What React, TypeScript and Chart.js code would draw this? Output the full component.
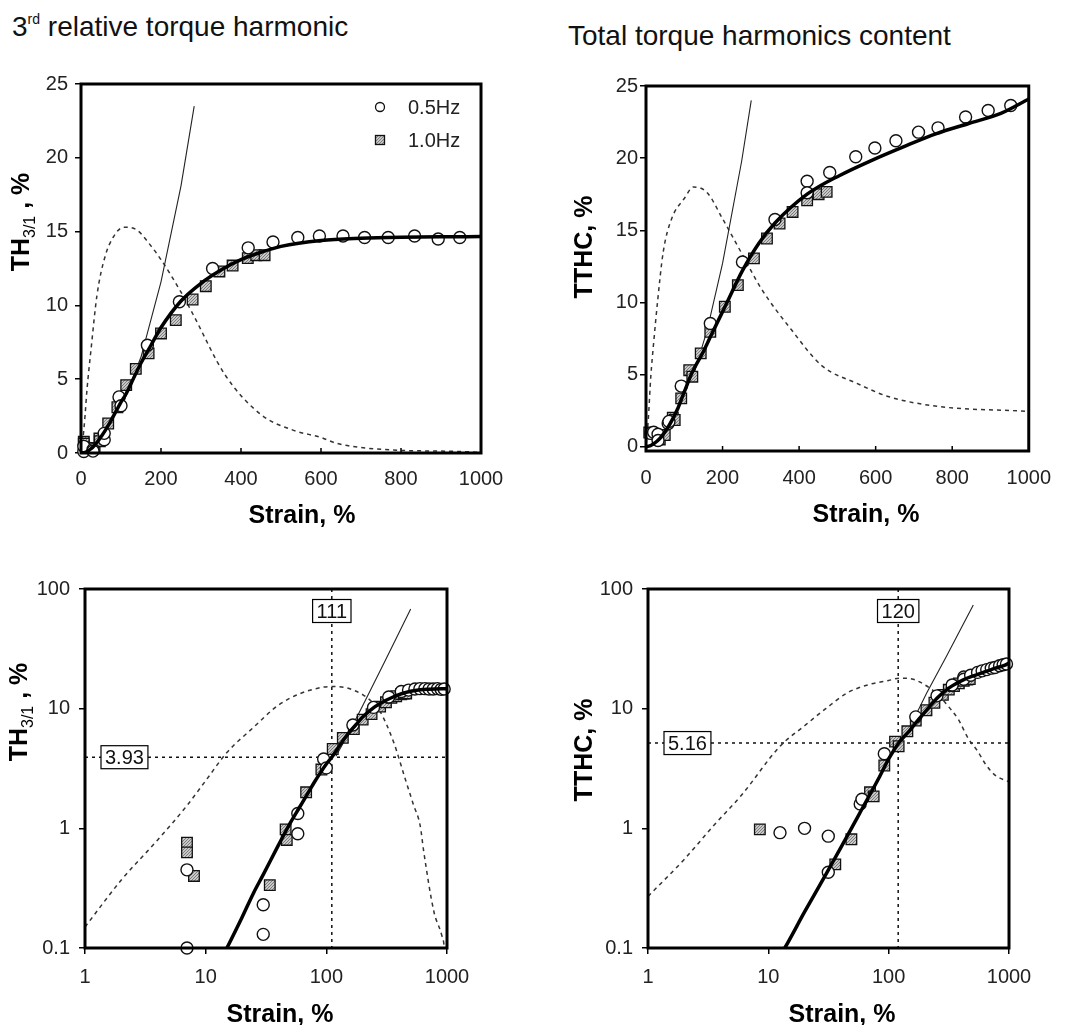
import React, { useEffect, useRef } from 'react';
import { Chart, registerables } from 'chart.js';
Chart.register(...registerables);

const FONT = '"Liberation Sans", Arial, Helvetica, sans-serif';
const W = 1066;
const H = 1025;

// ---------- tick values ----------
const linXTicks = [0, 200, 400, 600, 800, 1000];
const linYTicks = [0, 5, 10, 15, 20, 25];
const logXTicks = [1, 10, 100, 1000];
const logYTicks = [0.1, 1, 10, 100];

// ---------- 3rd relative torque harmonic (TH3/1) ----------
const th05X = [7, 7, 30, 30, 58, 58, 95, 100, 166, 246, 329, 418, 480, 542, 596, 655, 709, 768, 834, 893, 947];
const th05Y = [0.10, 0.45, 0.23, 0.13, 0.9, 1.33, 3.8, 3.2, 7.3, 10.25, 12.5, 13.9, 14.3, 14.6, 14.7, 14.7, 14.6, 14.6, 14.7, 14.5, 14.6];
const th10X = [7, 7, 8, 34, 46, 47, 68, 91, 113, 137, 169, 200, 237, 279, 312, 346, 379, 417, 438, 459];
const th10Y = [0.76, 0.63, 0.40, 0.335, 0.98, 0.8, 2.0, 3.1, 4.6, 5.7, 6.75, 8.1, 9.0, 10.4, 11.3, 12.3, 12.7, 13.2, 13.4, 13.4];
const thFitX = [0, 10, 15, 20, 25, 30, 40, 50, 60, 70, 80, 90, 100, 111, 125, 150, 175, 200, 250, 300, 350, 400, 450, 500, 600, 700, 800, 900, 1000];
const thFitY = [0, 0.045, 0.1, 0.18, 0.29, 0.41, 0.72, 1.1, 1.5, 1.95, 2.45, 2.95, 3.45, 3.93, 4.7, 6.1, 7.3, 8.5, 10.3, 11.5, 12.4, 13.1, 13.6, 14.0, 14.4, 14.55, 14.62, 14.65, 14.66];
const thTanLinX = [100, 150, 200, 250, 283];
const thTanLinY = [3.0, 6.5, 11.6, 18.1, 23.5];
const thTanLogX = [120, 150, 200, 300, 400, 500];
const thTanLogY = [4.0, 6.0, 10.6, 24, 43, 68];
const thDashX = [1, 2, 4, 7, 10, 15, 25, 40, 60, 80, 107, 140, 170, 200, 250, 280, 360, 450, 530, 600, 640, 780, 900, 950, 1000];
const thDashY = [0.15, 0.37, 0.8, 1.55, 2.5, 4.3, 7.0, 10.7, 13.3, 14.6, 15.3, 15.1, 14.2, 13.1, 10.9, 9.4, 5.3, 2.6, 1.55, 1.05, 0.65, 0.2, 0.13, 0.1, 0.04];
const thCross = { x: 111, y: 3.93 };

// ---------- Total torque harmonics content (TTHC) ----------
const tt05X = [12.5, 20, 31.5, 31.5, 58, 60, 92, 168, 252, 337, 421, 421, 480, 548, 598, 653, 712, 763, 835, 894, 953];
const tt05Y = [0.92, 1.0, 0.86, 0.43, 1.6, 1.75, 4.2, 8.54, 12.8, 15.75, 18.4, 17.6, 19.0, 20.1, 20.7, 21.2, 21.8, 22.1, 22.85, 23.3, 23.65];
const tt10X = [8.5, 36, 49, 70, 75, 92, 113, 121, 143, 168, 206, 240, 282, 316, 349, 383, 421, 451, 472];
const tt10Y = [0.98, 0.5, 0.81, 2.0, 1.85, 3.35, 5.3, 4.85, 6.47, 7.96, 9.7, 11.2, 13.05, 14.43, 15.47, 16.27, 17.08, 17.5, 17.66];
const ttFitX = [0, 10, 13.7, 20, 30, 41, 60, 84, 100, 120, 150, 168, 210, 252, 295, 337, 421, 506, 590, 674, 759, 843, 927, 1000];
const ttFitY = [0, 0.06, 0.1, 0.2, 0.41, 0.72, 1.45, 2.7, 3.8, 5.1, 6.6, 7.6, 9.9, 12.2, 14.1, 15.5, 17.5, 18.8, 19.85, 20.8, 21.7, 22.4, 23.1, 24.1];
const ttTanLinX = [120, 160, 200, 250, 275];
const ttTanLinY = [4.6, 8.1, 12.7, 19.8, 24.0];
const ttTanLogX = [150, 207, 300, 400, 505];
const ttTanLogY = [7.0, 13.5, 27, 47, 73.6];
const ttDashX = [1, 2, 3.5, 6, 12.5, 20, 30, 45, 67, 100, 124, 160, 200, 250, 300, 380, 460, 550, 630, 760, 1000];
const ttDashY = [0.27, 0.55, 1.05, 1.9, 4.85, 7.2, 10.0, 13.5, 15.8, 17.2, 18.0, 17.6, 15.8, 13.4, 11.0, 8.1, 5.6, 4.4, 3.5, 2.8, 2.45];
const ttCross = { x: 120, y: 5.16 };

const legendLabels = ['0.5Hz', '1.0Hz'];

type Pt = { x: number; y: number };
const pts = (xs: number[], ys: number[], log: boolean): Pt[] =>
  xs.map((x, i) => ({ x, y: ys[i] })).filter((p) => !log || (p.x > 0 && p.y > 0));

interface TitlePart { text: string; font: string; dy?: number }
interface Panel {
  area: { left: number; top: number; right: number; bottom: number };
  log: boolean;
  xMin: number; xMax: number; yMin: number; yMax: number;
  xTicks: number[]; yTicks: number[];
  c05X: number[]; c05Y: number[]; s10X: number[]; s10Y: number[];
  fitX: number[]; fitY: number[]; tanX: number[]; tanY: number[]; dashX: number[]; dashY: number[];
  yTitle: TitlePart[]; yTitlePos: [number, number];
  xTitlePos: [number, number];
  cross?: { x: number; y: number };
  legend?: boolean;
  yPad: number; xPad: number;
}

const boldT = `bold 25px ${FONT}`;
const subT = `16px ${FONT}`;

const panels: Panel[] = [
  {
    area: { left: 81, top: 84, right: 481, bottom: 453 }, log: false,
    xMin: 0, xMax: 1000, yMin: 0, yMax: 25, xTicks: linXTicks, yTicks: linYTicks,
    c05X: th05X, c05Y: th05Y, s10X: th10X, s10Y: th10Y, fitX: thFitX, fitY: thFitY,
    tanX: thTanLinX, tanY: thTanLinY, dashX: thDashX, dashY: thDashY,
    yTitle: [{ text: 'TH', font: boldT }, { text: '3/1', font: subT, dy: 6 }, { text: ' , %', font: boldT }],
    yTitlePos: [20, 222], xTitlePos: [302, 523], legend: true, yPad: 7, xPad: 14,
  },
  {
    area: { left: 646, top: 86, right: 1042, bottom: 451 }, log: false,
    xMin: 0, xMax: 1000, yMin: -0.3, yMax: 25, xTicks: linXTicks, yTicks: linYTicks,
    c05X: tt05X, c05Y: tt05Y, s10X: tt10X, s10Y: tt10Y, fitX: ttFitX, fitY: ttFitY,
    tanX: ttTanLinX, tanY: ttTanLinY, dashX: ttDashX, dashY: ttDashY,
    yTitle: [{ text: 'TTHC, %', font: boldT }],
    yTitlePos: [583, 247], xTitlePos: [866, 522], yPad: 2, xPad: 15,
  },
  {
    area: { left: 85, top: 589, right: 447, bottom: 948 }, log: true,
    xMin: 1, xMax: 1000, yMin: 0.1, yMax: 100, xTicks: logXTicks, yTicks: logYTicks,
    c05X: th05X, c05Y: th05Y, s10X: th10X, s10Y: th10Y, fitX: thFitX, fitY: thFitY,
    tanX: thTanLogX, tanY: thTanLogY, dashX: thDashX, dashY: thDashY,
    yTitle: [{ text: 'TH', font: boldT }, { text: '3/1', font: subT, dy: 6 }, { text: ' , %', font: boldT }],
    yTitlePos: [18, 712], xTitlePos: [280, 1022], cross: thCross, yPad: 9, xPad: 11,
  },
  {
    area: { left: 648, top: 589, right: 1009, bottom: 948 }, log: true,
    xMin: 1, xMax: 1000, yMin: 0.1, yMax: 100, xTicks: logXTicks, yTicks: logYTicks,
    c05X: tt05X, c05Y: tt05Y, s10X: tt10X, s10Y: tt10Y, fitX: ttFitX, fitY: ttFitY,
    tanX: ttTanLogX, tanY: ttTanLogY, dashX: ttDashX, dashY: ttDashY,
    yTitle: [{ text: 'TTHC, %', font: boldT }],
    yTitlePos: [583, 750], xTitlePos: [842, 1022], cross: ttCross, yPad: 9, xPad: 11,
  },
];

function makePattern(): CanvasPattern | string {
  const c = document.createElement('canvas');
  c.width = 3; c.height = 3;
  const g = c.getContext('2d');
  if (!g) return '#aaaaaa';
  g.fillStyle = '#c8c8c8';
  g.fillRect(0, 0, 3, 3);
  g.fillStyle = '#7c7c7c';
  g.fillRect(0, 0, 1, 1);
  g.fillRect(2, 1, 1, 1);
  g.fillRect(1, 2, 1, 1);
  return g.createPattern(c, 'repeat') || '#aaaaaa';
}

function fmt(v: number) {
  return String(v);
}

function buildChart(canvas: HTMLCanvasElement, p: Panel) {
  const pattern = makePattern();
  const tickFont = { family: FONT, size: 20 };
  const overlay = {
    id: 'overlay' + Math.random().toString(36).slice(2),
    beforeDatasetsDraw(chart: any) {
      if (!p.cross) return;
      const { ctx, chartArea: a, scales } = chart;
      const px = scales.x.getPixelForValue(p.cross.x);
      const py = scales.y.getPixelForValue(p.cross.y);
      ctx.save();
      ctx.strokeStyle = '#111';
      ctx.lineWidth = 1.5;
      ctx.setLineDash([3, 4]);
      ctx.beginPath();
      ctx.moveTo(px, a.top); ctx.lineTo(px, a.bottom);
      ctx.moveTo(a.left, py); ctx.lineTo(a.right, py);
      ctx.stroke();
      ctx.restore();
    },
    afterDraw(chart: any) {
      const { ctx, chartArea: a, scales } = chart;
      ctx.save();
      // inner ticks for linear x axis
      if (!p.log) {
        ctx.strokeStyle = '#000';
        ctx.lineWidth = 1.5;
        ctx.beginPath();
        p.xTicks.forEach((v) => {
          const x = scales.x.getPixelForValue(v);
          ctx.moveTo(x, a.bottom);
          ctx.lineTo(x, a.bottom - 5);
        });
        ctx.stroke();
      }
      // frame
      ctx.strokeStyle = '#000';
      ctx.lineWidth = 3;
      ctx.strokeRect(a.left, a.top, a.right - a.left, a.bottom - a.top);
      // boxed value labels
      if (p.cross) {
        ctx.font = `20px ${FONT}`;
        ctx.textBaseline = 'middle';
        ctx.textAlign = 'center';
        const drawBox = (text: string, cx: number, cy: number) => {
          const w = ctx.measureText(text).width + 8;
          const h = 23;
          ctx.fillStyle = '#fff';
          ctx.fillRect(cx - w / 2, cy - h / 2, w, h);
          ctx.strokeStyle = '#000';
          ctx.lineWidth = 1.2;
          ctx.strokeRect(cx - w / 2, cy - h / 2, w, h);
          ctx.fillStyle = '#111';
          ctx.fillText(text, cx, cy + 1);
        };
        const px = scales.x.getPixelForValue(p.cross.x);
        const py = scales.y.getPixelForValue(p.cross.y);
        drawBox(String(p.cross.x), px, a.top + 22);
        const lt = String(p.cross.y);
        const lw = ctx.measureText(lt).width + 8;
        drawBox(lt, a.left + 16 + lw / 2, py);
      }
      // legend
      if (p.legend) {
        const lx = a.left + 299;
        const y1 = a.top + 23;
        const y2 = a.top + 56;
        ctx.lineWidth = 1.3;
        ctx.strokeStyle = '#111';
        ctx.fillStyle = '#fff';
        ctx.beginPath();
        ctx.arc(lx, y1, 4.5, 0, Math.PI * 2);
        ctx.fill();
        ctx.stroke();
        ctx.fillStyle = pattern as any;
        ctx.fillRect(lx - 4.5, y2 - 4.5, 9, 9);
        ctx.strokeRect(lx - 4.5, y2 - 4.5, 9, 9);
        ctx.fillStyle = '#222';
        ctx.font = `20px ${FONT}`;
        ctx.textAlign = 'left';
        ctx.textBaseline = 'middle';
        ctx.fillText(legendLabels[0], lx + 28, y1 + 1);
        ctx.fillText(legendLabels[1], lx + 28, y2 + 1);
      }
      // x title
      ctx.fillStyle = '#000';
      ctx.font = boldT;
      ctx.textAlign = 'center';
      ctx.textBaseline = 'alphabetic';
      ctx.fillText('Strain, %', p.xTitlePos[0], p.xTitlePos[1]);
      // y title (rotated, with subscript)
      ctx.translate(p.yTitlePos[0], p.yTitlePos[1]);
      ctx.rotate(-Math.PI / 2);
      ctx.textAlign = 'left';
      let total = 0;
      const widths = p.yTitle.map((t) => {
        ctx.font = t.font;
        const w = ctx.measureText(t.text).width;
        total += w;
        return w;
      });
      let x = -total / 2;
      p.yTitle.forEach((t, i) => {
        ctx.font = t.font;
        ctx.fillText(t.text, x, 9 + (t.dy || 0));
        x += widths[i];
      });
      ctx.restore();
    },
  };

  const lineBase = { showLine: true, pointRadius: 0, pointHoverRadius: 0, fill: false };
  const scaleType = p.log ? 'logarithmic' : 'linear';
  const tickGrid = { display: true, drawOnChartArea: false, drawTicks: true, tickLength: 6, color: '#000', lineWidth: 1.5 };

  return new Chart(canvas, {
    type: 'scatter',
    data: {
      datasets: [
        {
          ...lineBase, label: 'fit', data: pts(p.fitX, p.fitY, p.log), borderColor: '#000', borderWidth: 3.5,
          cubicInterpolationMode: 'monotone', order: 1,
        },
        {
          label: '0.5Hz', data: pts(p.c05X, p.c05Y, p.log), pointStyle: 'circle', pointRadius: 6,
          backgroundColor: '#fff', borderColor: '#111', borderWidth: 1.4, clip: false, order: 2,
        },
        {
          label: '1.0Hz', data: pts(p.s10X, p.s10Y, p.log), pointStyle: 'rect', pointRadius: 7.5,
          backgroundColor: pattern, borderColor: '#111', borderWidth: 1.3, clip: false, order: 3,
        },
        {
          ...lineBase, label: 'tangent', data: pts(p.tanX, p.tanY, p.log), borderColor: '#222', borderWidth: 1.1,
          order: 4,
        },
        {
          ...lineBase, label: 'dashed', data: pts(p.dashX, p.dashY, p.log), borderColor: '#333', borderWidth: 1.5,
          borderDash: [4, 4], cubicInterpolationMode: 'monotone', order: 5,
        },
      ] as any,
    },
    options: {
      responsive: false,
      animation: false,
      events: [],
      layout: { padding: { left: 0, top: p.area.top, right: W - p.area.right, bottom: 0 } },
      plugins: { legend: { display: false }, tooltip: { enabled: false }, title: { display: false } },
      scales: {
        x: {
          type: scaleType,
          min: p.xMin,
          max: p.xMax,
          afterFit: (s: any) => { s.height = H - p.area.bottom; },
          afterBuildTicks: (s: any) => { s.ticks = p.xTicks.map((v) => ({ value: v })); },
          ticks: { font: tickFont, color: '#222', padding: p.xPad, maxRotation: 0, autoSkip: false, callback: (v: any) => fmt(Number(v)) },
          grid: p.log ? tickGrid : { display: false, drawTicks: false },
          border: { display: false },
        },
        y: {
          type: scaleType,
          min: p.yMin,
          max: p.yMax,
          afterFit: (s: any) => { s.width = p.area.left; },
          afterBuildTicks: (s: any) => { s.ticks = p.yTicks.map((v) => ({ value: v })); },
          ticks: { font: tickFont, color: '#222', padding: p.yPad, autoSkip: false, callback: (v: any) => fmt(Number(v)) },
          grid: tickGrid,
          border: { display: false },
        },
      } as any,
    },
    plugins: [overlay],
  } as any);
}

export default function App() {
  const refs = useRef<(HTMLCanvasElement | null)[]>([]);
  useEffect(() => {
    const charts = panels.map((p, i) => buildChart(refs.current[i] as HTMLCanvasElement, p));
    return () => charts.forEach((c) => c.destroy());
  }, []);
  const titleStyle: React.CSSProperties = {
    position: 'absolute', fontSize: 28, lineHeight: '28px', whiteSpace: 'nowrap', color: '#111', fontFamily: FONT,
  };
  return (
    <div style={{ position: 'absolute', left: 0, top: 0, width: W, height: H, overflow: 'hidden', background: '#fff' }}>
      <div style={{ ...titleStyle, left: 12, top: 13 }}>
        3<span style={{ fontSize: 14, position: 'relative', top: -12 }}>rd</span> relative torque harmonic
      </div>
      <div style={{ ...titleStyle, left: 568, top: 22 }}>Total torque harmonics content</div>
      {panels.map((_, i) => (
        <canvas
          key={i}
          ref={(el) => { refs.current[i] = el; }}
          width={W}
          height={H}
          style={{ position: 'absolute', left: 0, top: 0, width: W, height: H }}
        />
      ))}
    </div>
  );
}
